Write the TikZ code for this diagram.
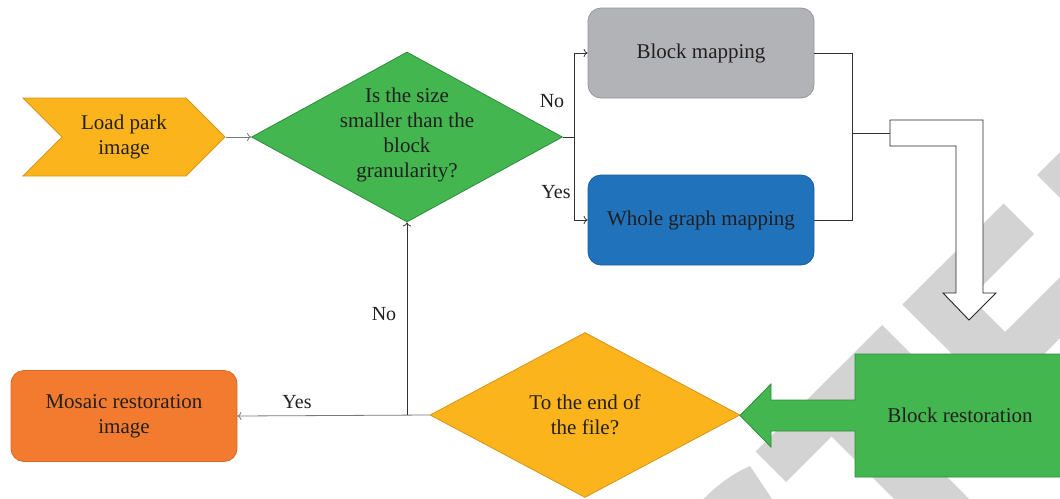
\documentclass[tikz,border=0pt]{standalone}
\usepackage{fontspec}
\setmainfont{Liberation Serif}
\usetikzlibrary{shapes.geometric,shapes.symbols,arrows.meta}
\definecolor{wm}{RGB}{211,211,211}
\definecolor{yel}{RGB}{251,180,27}
\definecolor{yelb}{RGB}{214,150,30}
\definecolor{grn}{RGB}{67,182,80}
\definecolor{grnb}{RGB}{46,140,60}
\definecolor{gbox}{RGB}{178,179,183}
\definecolor{gboxb}{RGB}{150,150,155}
\definecolor{blu}{RGB}{32,114,186}
\definecolor{blub}{RGB}{25,95,160}
\definecolor{org}{RGB}{243,123,47}
\definecolor{orgb}{RGB}{215,105,40}
\definecolor{txt}{RGB}{35,31,32}
\definecolor{ln}{RGB}{50,50,50}
\definecolor{lnl}{RGB}{120,120,120}
\begin{document}
\begin{tikzpicture}[x=1pt,y=-1pt,
  every node/.style={text=txt, font=\fontsize{21}{25}\selectfont},
  rbox/.style={rectangle, rounded corners=13pt, minimum width=226pt, minimum height=90pt, inner sep=0pt, align=center, draw, line width=0.8pt},
  dia/.style={diamond, inner sep=0pt, line width=0.8pt, draw},
  conn/.style={draw=ln, line width=0.8pt},
  arr/.style={conn, -{To[length=4pt,width=8pt]}},
  lbl/.style={font=\fontsize{20}{24}\selectfont, inner sep=0pt}
]
\useasboundingbox (0,0) rectangle (1060,498);
\fill[white] (0,0) rectangle (1060,498);
% background watermark bands
\begin{scope}
\clip (0,0) rectangle (1060,498);
\fill[wm] (1003.5,203.5) -- (1034,234) -- (933,335) -- (902.5,304.5) -- cycle;
\fill[wm] (882,325) -- (912.5,355.5) -- (786,482) -- (755.5,451.5) -- cycle;
\fill[wm] (902.5,304.5) -- (940,267) -- (1250,577) -- (1250,652) -- cycle;
\fill[wm] (801,406) -- (838.5,368.5) -- (1250,780) -- (1250,855) -- cycle;
\fill[wm] (967.5,369.5) -- (998,400) -- (1199,199) -- (1168.5,168.5) -- cycle;
\fill[wm] (1037,175) -- (1067.5,205.5) -- (1186.5,86.5) -- (1156,56) -- cycle;
\fill[wm] (698,505) .. controls (715,486) and (732,474) .. (750,466) -- (776,505) -- cycle;
\end{scope}

% shapes
\node[signal, signal to=east, signal from=west, signal pointer angle=90, fill=yel, draw=yelb, line width=0.8pt, minimum width=202pt, minimum height=78pt, inner sep=0pt, align=center] (load) at (124,137) {Load park\\image};

\node[dia, fill=grn, draw=grnb, minimum width=311pt, minimum height=170pt] (d1) at (407,137) {};
\node[align=center, inner sep=0pt] (d1t) at (407,135) {Is the size\\smaller than the\\block\\granularity?};

\node[rbox, fill=gbox, draw=gboxb] (bm) at (701,53) {Block mapping};
\node[rbox, fill=blu, draw=blub] (wg) at (701,220) {Whole graph mapping};
\node[rbox, fill=org, draw=orgb, minimum height=91pt] (mr) at (124,416) {Mosaic restoration\\image};

\node[dia, fill=yel, draw=yelb, minimum width=310pt, minimum height=165pt] (d2) at (585,415) {};
\node[align=center, inner sep=0pt] (d2t) at (585,415) {To the end of\\the file?};

% block restoration arrow shape
\filldraw[fill=grn, draw=grnb, line width=0.8pt] (1064,354) -- (855,354) -- (855,400) -- (771,400) -- (771,384) -- (740,415.5) -- (771,447) -- (771,431) -- (855,431) -- (855,477) -- (1064,477);
\node (br) at (960,415) {Block restoration};

% hollow arrow
\filldraw[fill=white, draw=black!85, line width=0.9pt] (890,120) -- (983,120) -- (983,293) -- (996,293) -- (969,320) -- (943,293) -- (956,293) -- (956,146) -- (890,146) -- cycle;
\coordinate (ha) at (890,133);

% connectors
\draw[arr, draw=lnl] (load.east) -- (d1.west);
\coordinate (j1) at (574,137);
\draw[conn] (d1.east) -- (j1);
\draw[arr] (j1) |- (bm.west);
\draw[arr] (j1) |- (wg.west);
\coordinate (j2) at (852,133);
\draw[conn] (bm.east) -| (j2) |- (wg.east);
\draw[conn] (j2) -- (ha);
\draw[arr, draw=lnl] (d2.west) -- (mr.east);
\coordinate (j3) at (d1.south |- d2.west);
\draw[arr] (j3) -- (d1.south);

% labels
\node[lbl] (lno1) at (552,101) {No};
\node[lbl] (lyes1) at (556,192) {Yes};
\node[lbl] (lno2) at (384,314) {No};
\node[lbl] (lyes2) at (297,402) {Yes};
\end{tikzpicture}
\end{document}
